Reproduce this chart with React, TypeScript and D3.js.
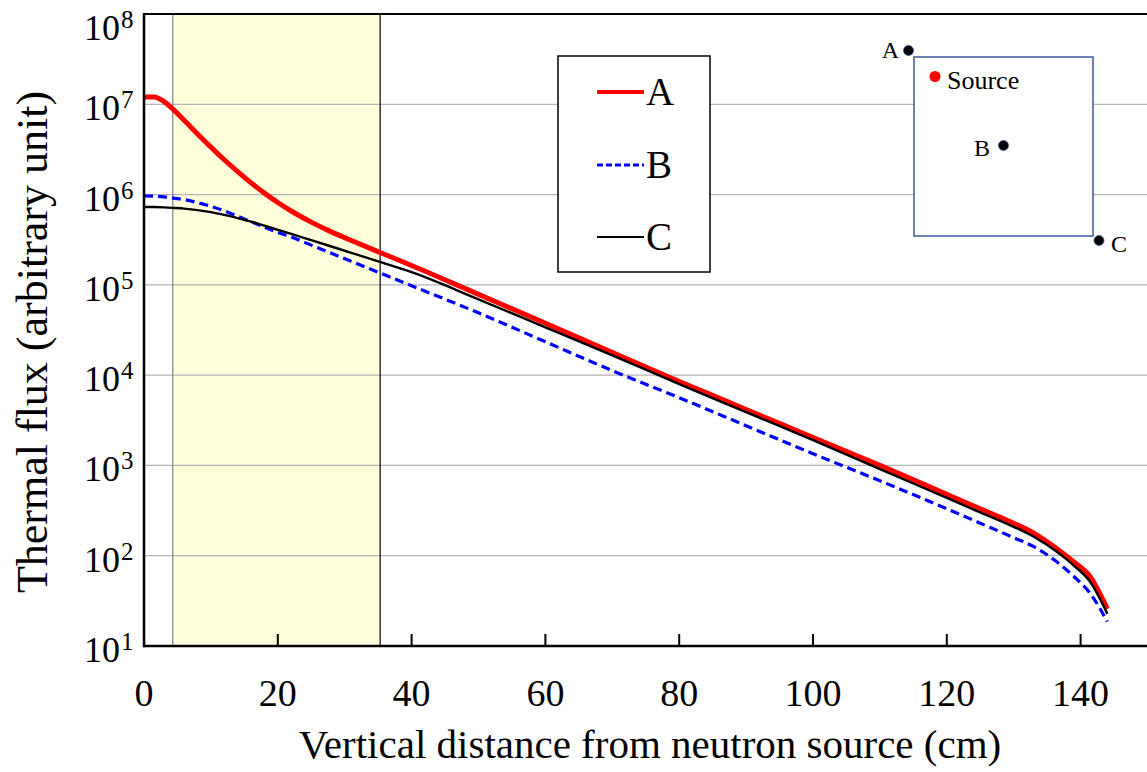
import React from "react";
import * as d3 from "d3";

const distance = [0, 1.5, 3, 4.4, 6, 8, 10, 12, 14, 16, 18, 20, 22, 25, 28, 31, 35, 40, 50, 60, 70, 80, 90, 100, 110, 120, 125, 130, 133, 136.4, 139, 141.4, 144];
const logA = [7.08, 7.08, 7.03, 6.94, 6.822, 6.672, 6.526, 6.386, 6.254, 6.13, 6.016, 5.912, 5.818, 5.695, 5.587, 5.491, 5.367, 5.215, 4.895, 4.575, 4.25, 3.93, 3.62, 3.31, 3.0, 2.68, 2.52, 2.36, 2.25, 2.08, 1.93, 1.77, 1.41];
const logB = [5.985, 5.983, 5.975, 5.96, 5.945, 5.91, 5.87, 5.82, 5.76, 5.70, 5.64, 5.58, 5.53, 5.44, 5.35, 5.26, 5.14, 4.99, 4.69, 4.37, 4.05, 3.75, 3.44, 3.13, 2.83, 2.52, 2.36, 2.20, 2.10, 1.935, 1.77, 1.585, 1.27];
const logC = [5.863, 5.862, 5.858, 5.852, 5.844, 5.828, 5.805, 5.775, 5.74, 5.70, 5.655, 5.61, 5.565, 5.495, 5.425, 5.355, 5.26, 5.14, 4.84, 4.53, 4.22, 3.90, 3.59, 3.28, 2.96, 2.64, 2.48, 2.32, 2.21, 2.046, 1.89, 1.713, 1.356];
const xTicks = [0, 20, 40, 60, 80, 100, 120, 140];
const yExponents = [1, 2, 3, 4, 5, 6, 7, 8];
const band = [4.3, 35.3];
const seriesNames = ["A", "B", "C"];

const W = 1147;
const H = 772;
const left = 144;
const top = 14;
const bottom = 646;

const x = d3.scaleLinear().domain([0, 150]).range([left, left + 6.69 * 150]);
const y = d3.scaleLog().domain([10, 1e8]).range([bottom, top]);

const FONT = "'Liberation Serif', 'Times New Roman', serif";

type Pt = [number, number];
const mk = (logs: number[]): Pt[] => distance.map((d, i) => [d, Math.pow(10, logs[i])]);
const line = d3
  .line<Pt>()
  .x((d) => x(d[0]))
  .y((d) => y(d[1]))
  .curve(d3.curveMonotoneX);

const series = [
  { name: seriesNames[1], data: mk(logB), color: "#0000ff", width: 3.2, dash: "9,5" },
  { name: seriesNames[0], data: mk(logA), color: "#ff0000", width: 5, dash: undefined },
  { name: seriesNames[2], data: mk(logC), color: "#000000", width: 2.4, dash: undefined },
];

export default function App() {
  return (
    <svg width={W} height={H} style={{ position: "absolute", left: 0, top: 0, background: "#fff" }} fontFamily={FONT}>
      <rect x={0} y={0} width={W} height={H} fill="#fff" />
      <defs>
        <clipPath id="plot">
          <rect x={left} y={top} width={W - left} height={bottom - top} />
        </clipPath>
      </defs>
      <rect x={x(band[0])} y={top} width={x(band[1]) - x(band[0])} height={bottom - top} fill="#ffffdb" />
      {yExponents.slice(1, 7).map((e) => (
        <line key={e} x1={left} x2={W} y1={y(Math.pow(10, e))} y2={y(Math.pow(10, e))} stroke="#b4b4b4" strokeWidth={1.2} />
      ))}
      <line x1={x(band[0])} x2={x(band[0])} y1={top} y2={bottom} stroke="#808080" strokeWidth={1.2} />
      <line x1={x(band[1])} x2={x(band[1])} y1={top} y2={bottom} stroke="#000" strokeWidth={1.2} />
      <g clipPath="url(#plot)">
        {series.map((s) => (
          <path key={s.name} d={line(s.data) || ""} fill="none" stroke={s.color} strokeWidth={s.width} strokeDasharray={s.dash} strokeLinejoin="round" />
        ))}
      </g>
      <line x1={left} x2={W} y1={top} y2={top} stroke="#000" strokeWidth={2} />
      <line x1={left} x2={left} y1={top - 1} y2={bottom + 1.2} stroke="#000" strokeWidth={2.5} />
      <line x1={left - 1} x2={W} y1={bottom} y2={bottom} stroke="#000" strokeWidth={2.5} />
      {xTicks.map((t) => (
        <g key={t}>
          {t > 0 && <line x1={x(t)} x2={x(t)} y1={bottom} y2={bottom - 12} stroke="#000" strokeWidth={2} />}
          <text x={x(t)} y={706} fontSize={38} textAnchor="middle" fill="#000">
            {t}
          </text>
        </g>
      ))}
      {yExponents.map((e) => {
        const gy = y(Math.pow(10, e));
        const base = e === 8 ? gy + 26 : gy + 16;
        return (
          <g key={e}>
            <text x={120} y={base} fontSize={36} textAnchor="end" fill="#000">
              10
            </text>
            <text x={121} y={base - 12} fontSize={25} textAnchor="start" fill="#000">
              {e}
            </text>
          </g>
        );
      })}
      <text x={650} y={758} fontSize={41} textAnchor="middle" fill="#000">
        Vertical distance from neutron source (cm)
      </text>
      <text transform={`translate(47,342) rotate(-90)`} fontSize={44} textAnchor="middle" fill="#000">
        Thermal flux (arbitrary unit)
      </text>
      <rect x={558} y={56} width={152} height={216} fill="#fff" stroke="#000" strokeWidth={1.5} />
      {[
        { n: seriesNames[0], ly: 92, color: "#ff0000", w: 4, dash: undefined },
        { n: seriesNames[1], ly: 165, color: "#0000ff", w: 3, dash: "6,3" },
        { n: seriesNames[2], ly: 237, color: "#000", w: 2, dash: undefined },
      ].map((l) => (
        <g key={l.n}>
          <line x1={597} x2={644} y1={l.ly} y2={l.ly} stroke={l.color} strokeWidth={l.w} strokeDasharray={l.dash} />
          <text x={646} y={l.ly + 13} fontSize={39} fill="#000">
            {l.n}
          </text>
        </g>
      ))}
      <rect x={914} y={57} width={179} height={179} fill="#fff" stroke="#3d5a99" strokeWidth={1.5} />
      <circle cx={908.5} cy={50.5} r={5} fill="#000" stroke="#3d5a99" strokeWidth={0.8} />
      <text x={899} y={58} fontSize={24} textAnchor="end" fill="#000">A</text>
      <circle cx={935} cy={76.5} r={5.5} fill="#ff0000" />
      <text x={947} y={89} fontSize={26} fill="#000">Source</text>
      <circle cx={1003.5} cy={145.5} r={5} fill="#000" stroke="#3d5a99" strokeWidth={0.8} />
      <text x={990} y={156} fontSize={24} textAnchor="end" fill="#000">B</text>
      <circle cx={1099} cy={240.5} r={5} fill="#000" stroke="#3d5a99" strokeWidth={0.8} />
      <text x={1111} y={252} fontSize={24} fill="#000">C</text>
    </svg>
  );
}
